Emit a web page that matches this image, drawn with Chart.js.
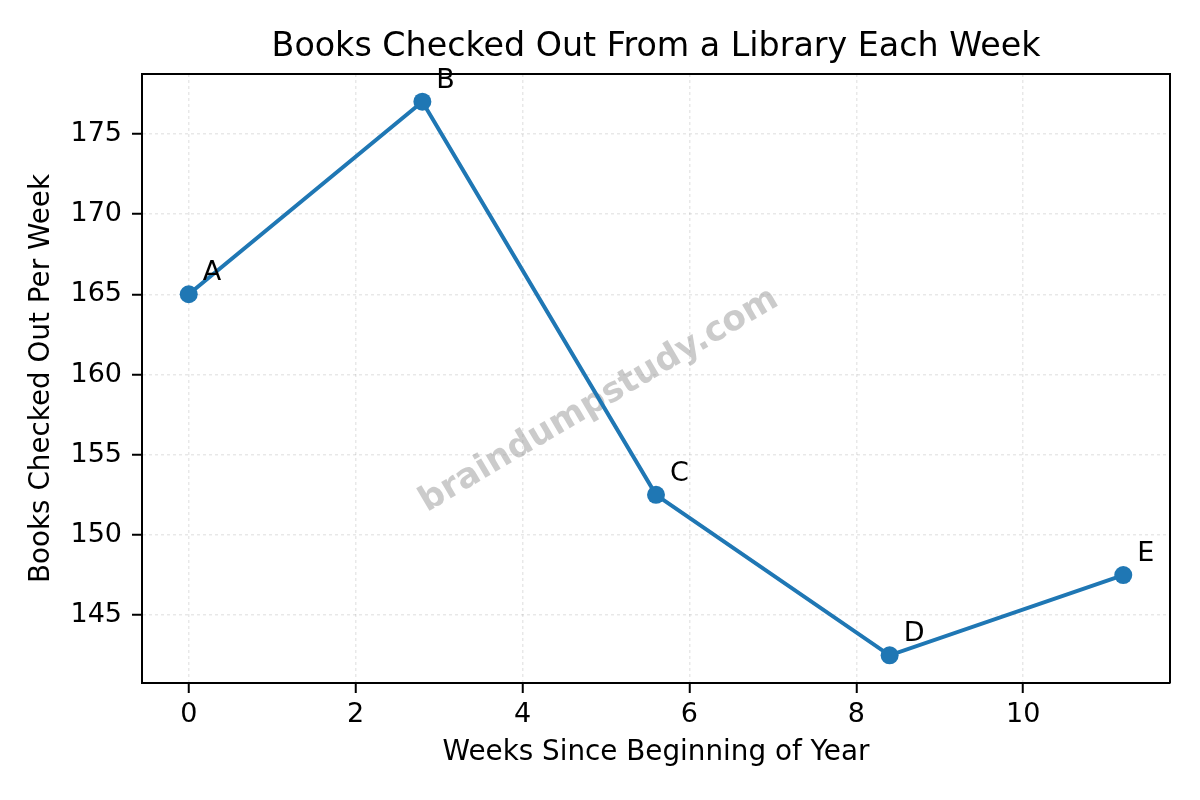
<!DOCTYPE html>
<html>
<head>
<meta charset="utf-8">
<script src="https://cdn.jsdelivr.net/npm/chart.js@4.4.0/dist/chart.umd.min.js"></script>
<style>
  html, body { margin: 0; padding: 0; background: #ffffff; }
  #wrap { width: 1200px; height: 800px; }
</style>
</head>
<body>
<div id="wrap"><canvas id="c" width="1200" height="800"></canvas></div>
<script>
// ---- data ----
const weeks = [0, 2.8, 5.6, 8.4, 11.2];
const books = [165, 177, 152.5, 142.5, 147.5];
const pointLabels = ['A', 'B', 'C', 'D', 'E'];
const xTicks = [0, 2, 4, 6, 8, 10];
const yTicks = [145, 150, 155, 160, 165, 170, 175];
const chartTitle = 'Books Checked Out From a Library Each Week';
const xTitle = 'Weeks Since Beginning of Year';
const yTitle = 'Books Checked Out Per Week';
const watermark = 'braindumpstudy.com';

const FONT = '"DejaVu Sans", "Liberation Sans", sans-serif';
const LINE_COLOR = '#1f77b4';

const textPlugin = {
  id: 'textPlugin',
  beforeDatasetsDraw(chart) {
    const ctx = chart.ctx;
    const a = chart.chartArea;
    ctx.save();
    ctx.translate((a.left + a.right) / 2 - 57, (a.top + a.bottom) / 2 + 22);
    ctx.rotate(-30.5 * Math.PI / 180);
    ctx.font = 'bold 34.5px ' + FONT;
    ctx.fillStyle = 'rgba(140,140,140,0.45)';
    ctx.textAlign = 'center';
    ctx.textBaseline = 'middle';
    ctx.fillText(watermark, 0, 0);
    ctx.restore();
  },
  afterDatasetsDraw(chart) {
    const ctx = chart.ctx;
    const meta = chart.getDatasetMeta(0);
    ctx.save();
    ctx.font = '27px ' + FONT;
    ctx.fillStyle = '#000';
    ctx.textAlign = 'left';
    ctx.textBaseline = 'alphabetic';
    meta.data.forEach((el, i) => {
      ctx.fillText(pointLabels[i], el.x + 14, el.y - 14);
    });
    ctx.restore();
  },
  afterDraw(chart) {
    const ctx = chart.ctx;
    const a = chart.chartArea;
    ctx.save();
    // top & right spines
    ctx.strokeStyle = '#000';
    ctx.lineWidth = 2;
    ctx.beginPath();
    ctx.moveTo(a.left, a.top);
    ctx.lineTo(a.right, a.top);
    ctx.lineTo(a.right, a.bottom);
    ctx.stroke();
    // titles
    ctx.fillStyle = '#000';
    ctx.textAlign = 'center';
    ctx.textBaseline = 'middle';
    ctx.font = '33.3px ' + FONT;
    ctx.fillText(chartTitle, (a.left + a.right) / 2, 47);
    ctx.font = '27.8px ' + FONT;
    ctx.fillText(xTitle, (a.left + a.right) / 2, 753);
    ctx.translate(42, (a.top + a.bottom) / 2);
    ctx.rotate(-Math.PI / 2);
    ctx.fillText(yTitle, 0, 0);
    ctx.restore();
  }
};

new Chart(document.getElementById('c'), {
  type: 'scatter',
  data: {
    datasets: [{
      data: weeks.map((w, i) => ({ x: w, y: books[i] })),
      showLine: true,
      borderColor: LINE_COLOR,
      backgroundColor: LINE_COLOR,
      borderWidth: 4,
      pointRadius: 9,
      pointHoverRadius: 9,
      pointBorderWidth: 0,
      pointBackgroundColor: LINE_COLOR,
      tension: 0
    }]
  },
  options: {
    responsive: false,
    animation: false,
    devicePixelRatio: 1,
    layout: { padding: { top: 74, right: 30, left: 0, bottom: 0 } },
    plugins: {
      legend: { display: false },
      title: { display: false },
      tooltip: { enabled: false }
    },
    scales: {
      x: {
        type: 'linear',
        min: -0.56,
        max: 11.76,
        afterBuildTicks: s => { s.ticks = xTicks.map(v => ({ value: v })); },
        afterFit: s => { s.height = 117; },
        ticks: {
          color: '#000',
          font: { family: FONT, size: 27 },
          padding: 6,
          maxRotation: 0,
          autoSkip: false
        },
        grid: {
          color: 'rgba(0,0,0,0.09)',
          lineWidth: 1.5,
          tickColor: '#000',
          tickLength: 10,
          tickWidth: 2
        },
        border: { display: true, color: '#000', width: 2, dash: [3, 3] }
      },
      y: {
        type: 'linear',
        min: 140.775,
        max: 178.725,
        afterBuildTicks: s => { s.ticks = yTicks.map(v => ({ value: v })); },
        afterFit: s => { s.width = 142; },
        ticks: {
          color: '#000',
          font: { family: FONT, size: 27 },
          padding: 10,
          autoSkip: false
        },
        grid: {
          color: 'rgba(0,0,0,0.09)',
          lineWidth: 1.5,
          tickColor: '#000',
          tickLength: 10,
          tickWidth: 2
        },
        border: { display: true, color: '#000', width: 2, dash: [3, 3] }
      }
    }
  },
  plugins: [textPlugin]
});
</script>
</body>
</html>
